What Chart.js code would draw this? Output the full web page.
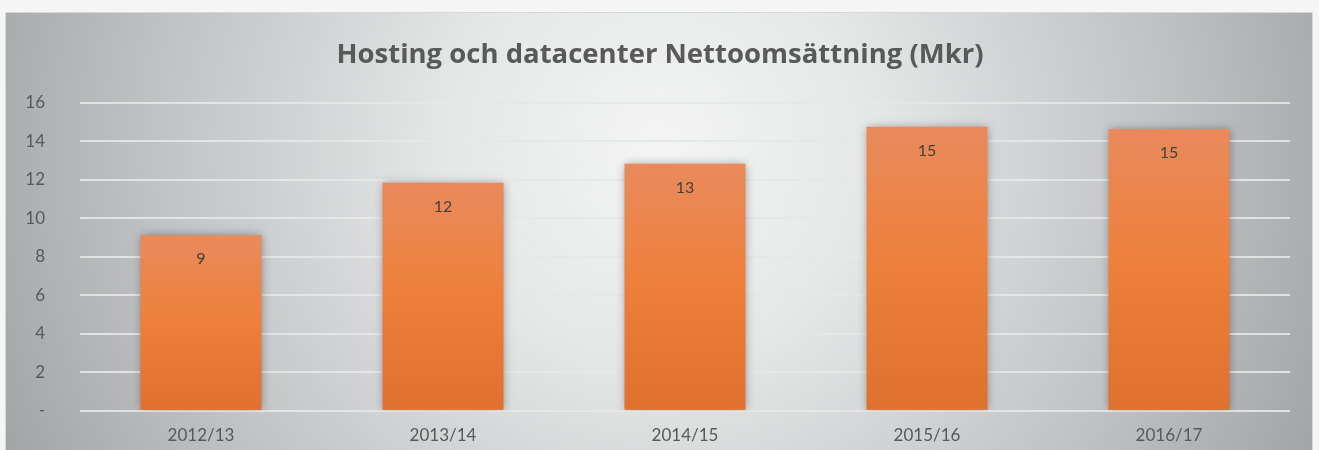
<!DOCTYPE html>
<html><head><meta charset="utf-8">
<script src="https://cdn.jsdelivr.net/npm/chart.js@4/dist/chart.umd.min.js"></script>
<style>html,body{margin:0;padding:0;background:#f4f4f4;overflow:hidden;width:1319px;height:450px}canvas{display:block}</style>
</head><body><canvas id="c" width="1319" height="456"></canvas>
<script>
const categories = ['2012/13','2013/14','2014/15','2015/16','2016/17'];
const revenue = [9.13, 11.85, 12.84, 14.77, 14.65];
const valueLabels = ['9','12','13','15','15'];
const yTicks = [0,2,4,6,8,10,12,14,16];
const chartTitle = 'Hosting och datacenter Nettoomsättning (Mkr)';

const FONT = 'Lato, "Open Sans", sans-serif';

const bgPlugin = {
  id: 'bg',
  beforeDraw(chart) {
    const ctx = chart.ctx;
    ctx.save();
    ctx.fillStyle = '#f5f5f5';
    ctx.fillRect(0,0,chart.width,chart.height);
    const g = ctx.createRadialGradient(660,150,0,660,150,720);
    g.addColorStop(0,'#f4f4f4');
    g.addColorStop(0.3,'#e5e6e6');
    g.addColorStop(0.7,'#c0c2c3');
    g.addColorStop(1,'#a2a5a6');
    ctx.fillStyle = g;
    ctx.fillRect(5,12,1308,460);
    ctx.strokeStyle = '#d6d8d8';
    ctx.lineWidth = 1;
    ctx.strokeRect(5.5,12.5,1307,460);
    ctx.fillStyle = '#595959';
    ctx.font = 'bold 27.5px "Open Sans", sans-serif';
    ctx.textAlign = 'center';
    ctx.textBaseline = 'middle';
    ctx.fillText(chartTitle, 660, 55);
    ctx.restore();
  },
  beforeDatasetDraw(chart) {
    const ctx = chart.ctx;
    ctx.save();
    ctx.shadowColor = 'rgba(0,0,0,0.35)';
    ctx.shadowBlur = 9;
    ctx.shadowOffsetX = 0;
    ctx.shadowOffsetY = 0;
  },
  afterDatasetDraw(chart) {
    chart.ctx.restore();
  },
  afterDatasetsDraw(chart) {
    const ctx = chart.ctx;
    const meta = chart.getDatasetMeta(0);
    ctx.save();
    ctx.fillStyle = '#404040';
    ctx.font = '16px ' + FONT;
    ctx.textAlign = 'center';
    ctx.textBaseline = 'middle';
    meta.data.forEach((bar,i) => {
      ctx.fillText(valueLabels[i], bar.x, bar.y + 24);
    });
    ctx.restore();
  }
};

new Chart(document.getElementById('c'), {
  type: 'bar',
  data: {
    labels: categories,
    datasets: [{
      data: revenue,
      barPercentage: 0.5,
      categoryPercentage: 1,
      backgroundColor(ctx) {
        const chart = ctx.chart;
        const ys = chart.scales.y;
        if (!chart.chartArea || !ys || ctx.raw === undefined) return '#ec7d3a';
        const top = ys.getPixelForValue(ctx.raw);
        const bot = ys.getPixelForValue(0);
        if (!isFinite(top) || !isFinite(bot) || top === bot) return '#ec7d3a';
        const g = chart.ctx.createLinearGradient(0, top, 0, bot);
        g.addColorStop(0,'#e98a5c');
        g.addColorStop(0.5,'#ee7f3a');
        g.addColorStop(1,'#df702e');
        return g;
      },
      borderWidth: 0
    }]
  },
  options: {
    responsive: false,
    maintainAspectRatio: false,
    animation: false,
    devicePixelRatio: 1,
    layout: { padding: { top: 103, right: 29, left: 0, bottom: 0 } },
    plugins: { legend: { display: false }, title: { display: false }, tooltip: { enabled: false } },
    scales: {
      x: {
        grid: { display: false, drawTicks: false },
        border: { display: false },
        ticks: { color: '#595959', font: { family: FONT, size: 17 }, padding: 15 },
        afterFit(s) { s.height = 40; }
      },
      y: {
        min: 0, max: 16,
        afterBuildTicks(s) { s.ticks = yTicks.map(v => ({ value: v })); },
        grid: { color: 'rgba(230,231,231,0.9)', lineWidth: 2, drawTicks: false },
        border: { display: false },
        ticks: {
          color: '#595959', font: { family: FONT, size: 17 }, padding: 35,
          callback(v) { return v === 0 ? '-' : String(v); }
        },
        afterFit(s) { s.width = 80; }
      }
    }
  },
  plugins: [bgPlugin]
});
</script></body></html>
